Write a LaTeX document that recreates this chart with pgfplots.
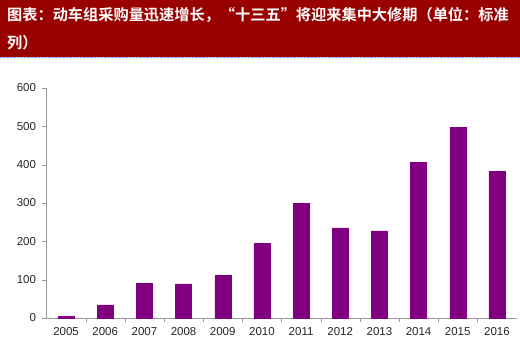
\documentclass[border=0pt]{standalone}
\usepackage{pgfplots}
\pgfplotsset{compat=1.18}
\usepackage{fontspec}
\setmainfont{Liberation Sans}
\newfontfamily\cjk{Noto Sans CJK SC Bold}
\definecolor{titlered}{HTML}{990000}
\definecolor{barpurple}{HTML}{800080}
\definecolor{axgray}{HTML}{999999}
\begin{document}
\begin{tikzpicture}[x=1pt,y=1pt]
\path[use as bounding box] (0,0) rectangle (520,352);
\fill[titlered] (0,295) rectangle (520,352);
\draw[blue!40, densely dotted] (0,294.5) -- (520,294.5);
\node[anchor=west, text=white, font=\cjk\fontsize{15.2}{18}\selectfont, inner sep=0pt] at (7,337) {图表：动车组采购量迅速增长，“十三五”将迎来集中大修期（单位：标准};
\node[anchor=west, text=white, font=\cjk\fontsize{15.2}{18}\selectfont, inner sep=0pt] at (7,309) {列）};
\begin{axis}[
  at={(46.5pt,34pt)}, anchor=south west,
  scale only axis, width=470pt, height=230pt,
  xmin=-0.5, xmax=11.5, ymin=0, ymax=600,
  axis lines=left, axis line style={axgray, -},
  xtick={0,...,11},
  xticklabels={2005,2006,2007,2008,2009,2010,2011,2012,2013,2014,2015,2016},
  minor xtick={0.5,1.5,...,10.5},
  ytick={0,100,...,600},
  tick align=outside,
  major x tick style={draw=none},
  minor tick length=4pt, major tick length=4pt,
  tick style={axgray},
  ticklabel style={font=\fontsize{11.5}{13}\selectfont, text=black!85},
  /pgf/number format/assume math mode=true,
  yticklabel style={xshift=-3pt},
  xticklabel style={yshift=-2pt},
  ybar, bar width=16pt,
  clip=false,
]
\addplot[fill=barpurple, draw=barpurple] coordinates {
(0,5) (1,34) (2,91) (3,89) (4,111) (5,195) (6,299) (7,235) (8,227) (9,406) (10,497) (11,383)};
\end{axis}
\end{tikzpicture}
\end{document}
